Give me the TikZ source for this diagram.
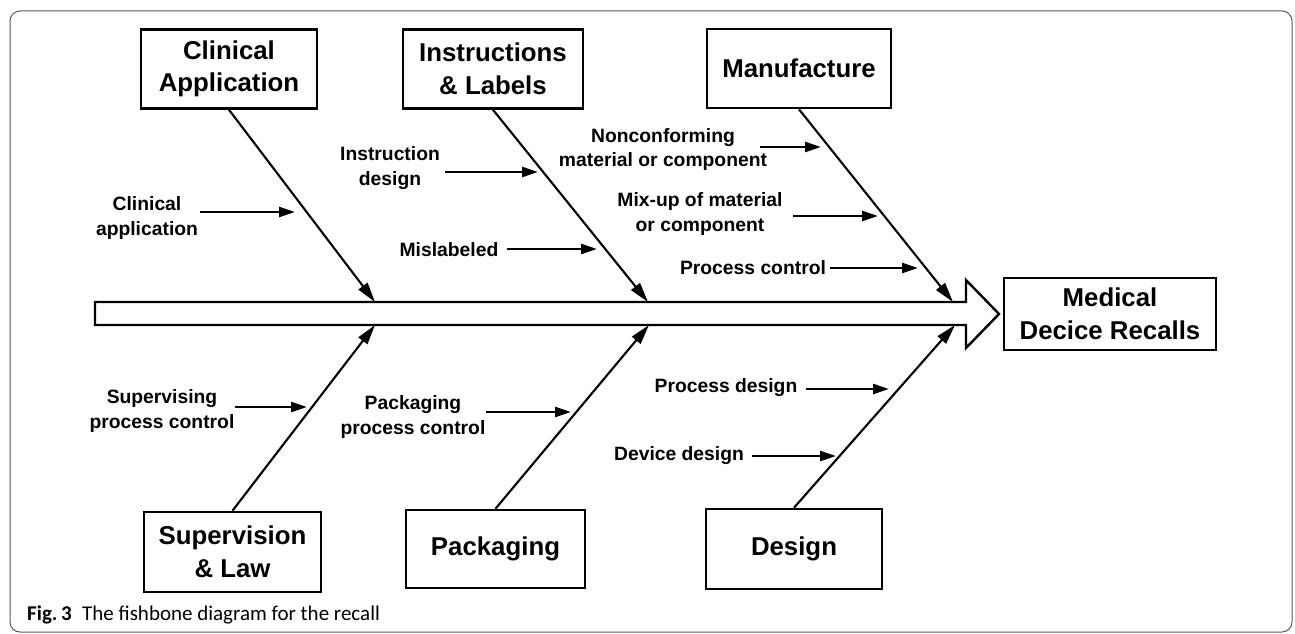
\documentclass[tikz,border=0pt]{standalone}
\usepackage{fontspec}
\setmainfont{Liberation Sans}
\newfontfamily\capfont{Carlito}
\usetikzlibrary{arrows.meta}
\begin{document}
\begin{tikzpicture}[x=1pt,y=-1pt,
  catbox/.style={draw,line width=2.6pt,inner sep=0pt,align=center,
    font=\fontsize{25.8}{32.5}\selectfont\bfseries},
  cause/.style={align=center,inner sep=0pt,font=\fontsize{19.3}{24.5}\selectfont\bfseries},
  bone/.style={line width=2.1pt,-{Triangle[length=20pt,width=11pt]}},
  sub/.style={line width=2.5pt,-{Triangle[length=16pt,width=10pt]}},
  spine/.style={line width=2.4pt,line join=miter},
  frame/.style={draw=black!65,line width=1pt,rounded corners=10pt}
]
\useasboundingbox (0,0) rectangle (1295,634);
\draw[frame] (10,11) rectangle (1292,632);

% spine
\draw[spine] (95,302) -- (966,302) -- (966,280) -- (999,314) -- (966,348) -- (966,325) -- (95,325) -- cycle;

% category boxes
\node[catbox,minimum width=176pt,minimum height=79pt] (ca) at (229,69) {Clinical\\Application};
\node[catbox,minimum width=180pt,minimum height=79pt] (il) at (493,69) {Instructions\\\& Labels};
\node[catbox,minimum width=184pt,minimum height=79pt] (mf) at (799,68.5) {Manufacture};
\node[catbox,minimum width=212pt,minimum height=72pt] (md) at (1110,314) {Medical\\Decice Recalls};
\node[catbox,minimum width=177pt,minimum height=80pt] (sl) at (232.5,552) {Supervision\\\& Law};
\node[catbox,minimum width=179pt,minimum height=78pt] (pk) at (495.5,549) {Packaging};
\node[catbox,minimum width=176pt,minimum height=80pt] (dg) at (794,549) {Design};

% bone ends on the spine
\coordinate (cs1) at (375,302);
\coordinate (cs2) at (648,302);
\coordinate (cs3) at (953,302);
\coordinate (cb1) at (375,325);
\coordinate (cb2) at (649,325);
\coordinate (cb3) at (955,325);

\draw[bone] (ca.south) -- (cs1);
\draw[bone] (il.south) -- (cs2);
\draw[bone] (mf.south) -- (cs3);
\draw[bone] (sl.north) -- (cb1);
\draw[bone] (pk.north) -- (cb2);
\draw[bone] (dg.north) -- (cb3);

% cause labels
\node[cause] (l1) at (147,218) {Clinical\\application};
\node[cause] (l2) at (390,168) {Instruction\\design};
\node[cause] (l3) at (449,250) {Mislabeled};
\node[cause] (l4) at (663,149.5) {Nonconforming\\material or component};
\node[cause] (l5) at (700,214) {Mix-up of material\\or component};
\node[cause] (l6) at (753,268) {Process control};
\node[cause] (l7) at (162,411) {Supervising\\process control};
\node[cause] (l8) at (413,417) {Packaging\\process control};
\node[cause] (l9) at (726,388) {Process design};
\node[cause] (l10) at (679,456) {Device design};

% cause arrows
\coordinate (s1) at (200,212);  \coordinate (e1) at (295,212);
\coordinate (s2) at (445,172);  \coordinate (e2) at (538,172);
\coordinate (s3) at (507,249);  \coordinate (e3) at (597,249);
\coordinate (s4) at (760,147);  \coordinate (e4) at (821,147);
\coordinate (s5) at (793,216);  \coordinate (e5) at (878,216);
\coordinate (s6) at (830,268);  \coordinate (e6) at (918,268);
\coordinate (s7) at (235,407);  \coordinate (e7) at (307,407);
\coordinate (s8) at (486,412);  \coordinate (e8) at (571,412);
\coordinate (s9) at (806,389);  \coordinate (e9) at (889,389);
\coordinate (s10) at (752,456); \coordinate (e10) at (836,456);
\foreach \i in {1,...,10} { \draw[sub] (s\i) -- (e\i); }

% caption
\node[anchor=base west,inner sep=0pt,font=\capfont\fontsize{21}{25}\selectfont] (cap) at (27,620)
  {\textbf{Fig.\,3}\hspace{0.5em}The fishbone diagram for the recall};
\end{tikzpicture}
\end{document}
